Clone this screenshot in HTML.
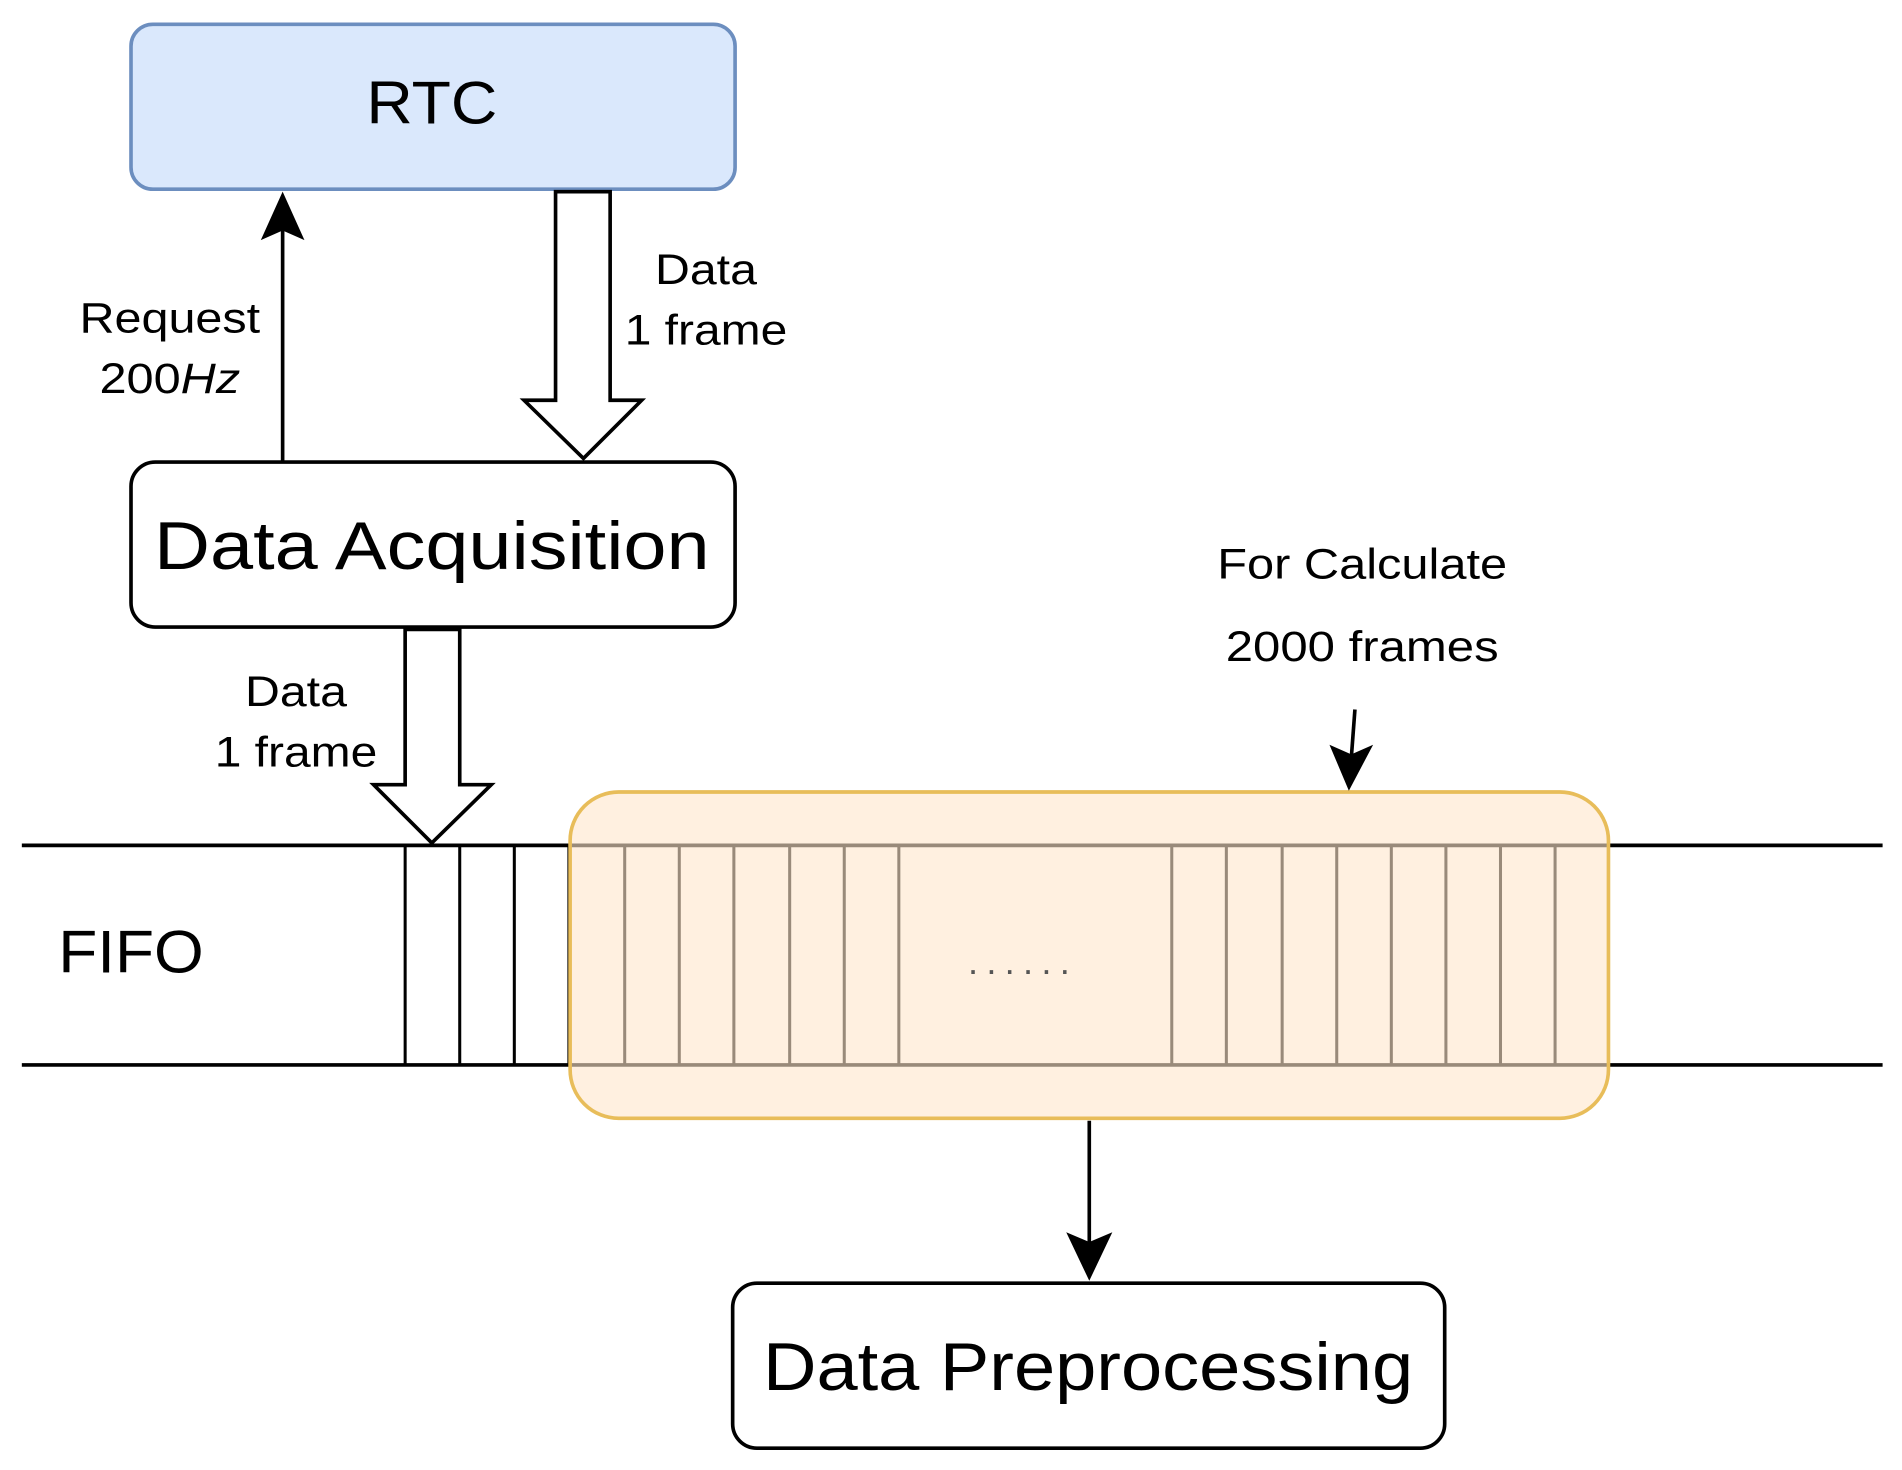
<!DOCTYPE html>
<html><head><meta charset="utf-8"><style>html,body{margin:0;padding:0;background:#fff}svg{display:block}</style></head>
<body>
<svg width="1902" height="1470" viewBox="0 0 1568 1212" preserveAspectRatio="none" xmlns="http://www.w3.org/2000/svg" font-family="Liberation Sans, sans-serif">
<rect x="108" y="20" width="498" height="136" rx="18" fill="#dae8fc" stroke="#6c8ebf" stroke-width="3"/>
<text x="356" y="102" font-size="50" text-anchor="middle" textLength="108" lengthAdjust="spacingAndGlyphs">RTC</text>
<line x1="233" y1="380" x2="233" y2="190" stroke="#000" stroke-width="3"/>
<polygon points="233,158 215,198 233,190 251,198" fill="#000"/>
<text x="140" y="274" font-size="35" text-anchor="middle" textLength="149" lengthAdjust="spacingAndGlyphs">Request</text>
<text x="140" y="324" font-size="35" text-anchor="middle" textLength="116" lengthAdjust="spacingAndGlyphs">200<tspan font-style="italic">Hz</tspan></text>
<polygon points="458,158 503,158 503,330 529,330 481,378 432,330 458,330" fill="#fff" stroke="#000" stroke-width="3"/>
<text x="582" y="234" font-size="35" text-anchor="middle" textLength="84" lengthAdjust="spacingAndGlyphs">Data</text>
<text x="582" y="284" font-size="35" text-anchor="middle" textLength="134" lengthAdjust="spacingAndGlyphs">1 frame</text>
<rect x="108" y="381" width="498" height="136" rx="20" fill="#fff" stroke="#000" stroke-width="3"/>
<text x="356" y="469" font-size="56" text-anchor="middle" textLength="458" lengthAdjust="spacingAndGlyphs">Data Acquisition</text>
<polygon points="334,519 379,519 379,647 405,647 356,695 308,647 334,647" fill="#fff" stroke="#000" stroke-width="3"/>
<text x="244" y="582" font-size="35" text-anchor="middle" textLength="84" lengthAdjust="spacingAndGlyphs">Data</text>
<text x="244" y="632" font-size="35" text-anchor="middle" textLength="134" lengthAdjust="spacingAndGlyphs">1 frame</text>
<line x1="18" y1="697" x2="1552" y2="697" stroke="#000" stroke-width="3"/>
<line x1="18" y1="878" x2="1552" y2="878" stroke="#000" stroke-width="3"/>
<g stroke="#000" stroke-width="2.5">
<line x1="334" y1="697" x2="334" y2="878"/><line x1="379" y1="697" x2="379" y2="878"/><line x1="424" y1="697" x2="424" y2="878"/><line x1="469" y1="697" x2="469" y2="878"/>
<line x1="515" y1="697" x2="515" y2="878"/><line x1="560" y1="697" x2="560" y2="878"/><line x1="605" y1="697" x2="605" y2="878"/><line x1="651" y1="697" x2="651" y2="878"/><line x1="696" y1="697" x2="696" y2="878"/><line x1="741" y1="697" x2="741" y2="878"/>
<line x1="966" y1="697" x2="966" y2="878"/><line x1="1011" y1="697" x2="1011" y2="878"/><line x1="1057" y1="697" x2="1057" y2="878"/><line x1="1102" y1="697" x2="1102" y2="878"/><line x1="1147" y1="697" x2="1147" y2="878"/><line x1="1192" y1="697" x2="1192" y2="878"/><line x1="1237" y1="697" x2="1237" y2="878"/><line x1="1282" y1="697" x2="1282" y2="878"/>
</g>
<rect x="470" y="653" width="856" height="269" rx="40" fill="#ffe6cc" fill-opacity="0.6" stroke="#e8bd5a" stroke-width="3"/>
<text x="840" y="803" font-size="30" fill="#555" text-anchor="middle" textLength="84" lengthAdjust="spacing">......</text>
<text x="108" y="802" font-size="50" text-anchor="middle" textLength="120" lengthAdjust="spacingAndGlyphs">FIFO</text>
<text x="1123" y="477" font-size="35" text-anchor="middle" textLength="239" lengthAdjust="spacingAndGlyphs">For Calculate</text>
<text x="1123" y="545" font-size="35" text-anchor="middle" textLength="225" lengthAdjust="spacingAndGlyphs">2000 frames</text>
<line x1="1117" y1="585" x2="1114" y2="625" stroke="#000" stroke-width="3"/>
<polygon points="1112,652 1096,614 1114,622 1132,614" fill="#000"/>
<line x1="898" y1="924" x2="898" y2="1025" stroke="#000" stroke-width="3"/>
<polygon points="898,1056 879,1016 898,1024 917,1016" fill="#000"/>
<rect x="604" y="1058" width="587" height="136" rx="20" fill="#fff" stroke="#000" stroke-width="3"/>
<text x="897" y="1146" font-size="56" text-anchor="middle" textLength="536" lengthAdjust="spacingAndGlyphs">Data Preprocessing</text>
</svg>
</body></html>
